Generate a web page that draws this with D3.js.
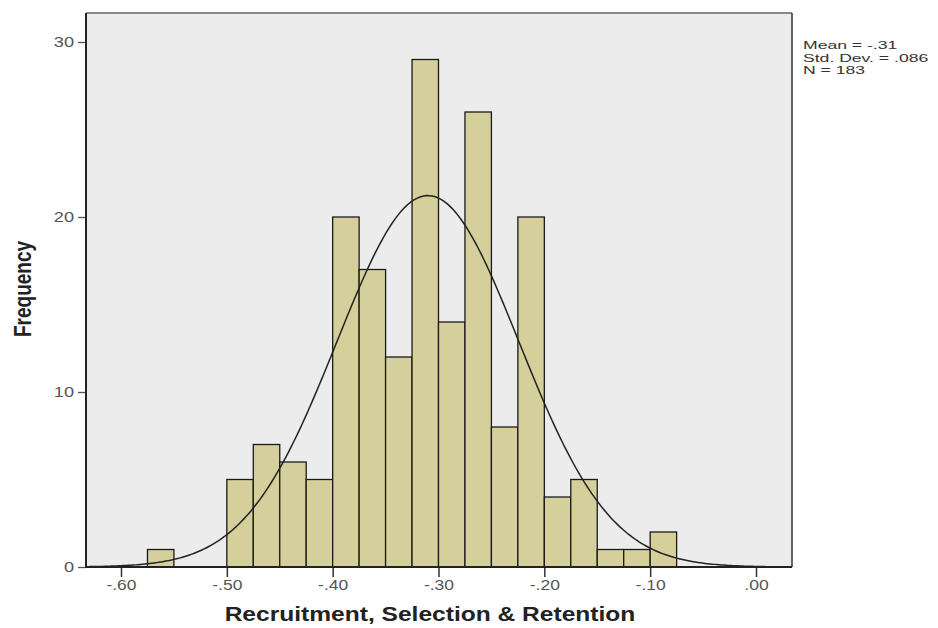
<!DOCTYPE html>
<html>
<head>
<meta charset="utf-8">
<script src="https://cdn.jsdelivr.net/npm/d3@7"></script>
<style>
  body { margin: 0; background: #fff; }
  text { font-family: "Liberation Sans", Arial, sans-serif; }
</style>
</head>
<body>
<svg id="chart" width="938" height="628"></svg>
<script>
// bins of width .025, lower edges
var binStarts = [-0.575, -0.55, -0.525, -0.50, -0.475, -0.45, -0.425, -0.40, -0.375, -0.35,
                 -0.325, -0.30, -0.275, -0.25, -0.225, -0.20, -0.175, -0.15, -0.125, -0.10];
var counts = [1, 0, 0, 5, 7, 6, 5, 20, 17, 12, 29, 14, 26, 8, 20, 4, 5, 1, 1, 2];
var binWidth = 0.025;
var xTicks = [-0.6, -0.5, -0.4, -0.3, -0.2, -0.1, 0];
var yTicks = [0, 10, 20, 30];
var stats = { mean: -0.31, sd: 0.086, n: 183 };
var statLines = ["Mean = -.31", "Std. Dev. = .086", "N = 183"];

var svg = d3.select("#chart");
var pLeft = 86, pRight = 792, pTop = 13, pBottom = 567;

var x = d3.scaleLinear().domain([-0.6, 0]).range([121, 756]);
var y = d3.scaleLinear().domain([0, 30]).range([567, 42]);

// plot background
svg.append("rect")
  .attr("x", pLeft).attr("y", pTop)
  .attr("width", pRight - pLeft).attr("height", pBottom - pTop)
  .attr("fill", "#ececec");

// bars
svg.selectAll("rect.bar")
  .data(binStarts.map(function(s, i){ return { x0: s, c: counts[i] }; }).filter(function(d){ return d.c > 0; }))
  .enter().append("rect")
  .attr("class", "bar")
  .attr("x", function(d){ return x(d.x0); })
  .attr("y", function(d){ return y(d.c); })
  .attr("width", function(d){ return x(d.x0 + binWidth) - x(d.x0); })
  .attr("height", function(d){ return y(0) - y(d.c); })
  .attr("fill", "#d5cf9b")
  .attr("stroke", "#1a1a1a")
  .attr("stroke-width", 1.3);

// normal curve
var xmin = x.invert(pLeft), xmax = x.invert(pRight);
var pts = d3.range(0, 301).map(function(i){
  var v = xmin + (xmax - xmin) * i / 300;
  var z = (v - stats.mean) / stats.sd;
  var f = stats.n * binWidth / (stats.sd * Math.sqrt(2 * Math.PI)) * Math.exp(-0.5 * z * z);
  return [v, f];
});
svg.append("path")
  .attr("d", d3.line().x(function(d){ return x(d[0]); }).y(function(d){ return y(d[1]); })(pts))
  .attr("fill", "none")
  .attr("stroke", "#222")
  .attr("stroke-width", 1.5);

// frame
svg.append("line").attr("x1", pLeft).attr("x2", pRight).attr("y1", pTop).attr("y2", pTop)
  .attr("stroke", "#888").attr("stroke-width", 2);
svg.append("line").attr("x1", pRight).attr("x2", pRight).attr("y1", pTop).attr("y2", pBottom)
  .attr("stroke", "#333").attr("stroke-width", 1.5);

// axes
var xAxis = d3.axisBottom(x).tickValues(xTicks).tickSize(10).tickPadding(3)
  .tickFormat(function(d){ return d === 0 ? ".00" : d3.format(".2f")(d).replace("\u2212", "-").replace("0.", "."); });
var gx = svg.append("g").attr("transform", "translate(0," + pBottom + ")").call(xAxis);
gx.select(".domain").remove();
gx.append("line").attr("x1", pLeft).attr("x2", pRight).attr("stroke", "#222").attr("stroke-width", 2);
gx.selectAll(".tick line").attr("stroke", "#333").attr("stroke-width", 1.5);
gx.selectAll(".tick text").attr("fill", "#555").style("font-size", "14px")
  .attr("transform", "scale(1.25,1)");

var yAxis = d3.axisLeft(y).tickValues(yTicks).tickSize(8).tickPadding(3);
var gy = svg.append("g").attr("transform", "translate(" + pLeft + ",0)").call(yAxis);
gy.select(".domain").remove();
gy.append("line").attr("y1", pTop).attr("y2", pBottom + 1).attr("stroke", "#222").attr("stroke-width", 2);
gy.selectAll(".tick line").attr("stroke", "#555").attr("stroke-width", 1.3);
gy.selectAll(".tick text").attr("fill", "#555").style("font-size", "14px")
  .attr("x", -12 / 1.3).attr("transform", "scale(1.3,1)");

// titles
svg.append("text")
  .attr("transform", "translate(430,621) scale(1.17,1)")
  .attr("text-anchor", "middle")
  .style("font-size", "21px").style("font-weight", "bold").attr("fill", "#222")
  .text("Recruitment, Selection & Retention");

svg.append("text")
  .attr("transform", "translate(31,289) rotate(-90) scale(1,1.25)")
  .attr("text-anchor", "middle")
  .style("font-size", "19px").style("font-weight", "bold").attr("fill", "#222")
  .text("Frequency");

// stats box
svg.selectAll("text.stat")
  .data(statLines)
  .enter().append("text")
  .attr("class", "stat")
  .attr("transform", function(d, i){ return "translate(803," + (49 + i * 12.5) + ") scale(1.6,1)"; })
  .style("font-size", "11px").attr("fill", "#333")
  .text(function(d){ return d; });
</script>
</body>
</html>
